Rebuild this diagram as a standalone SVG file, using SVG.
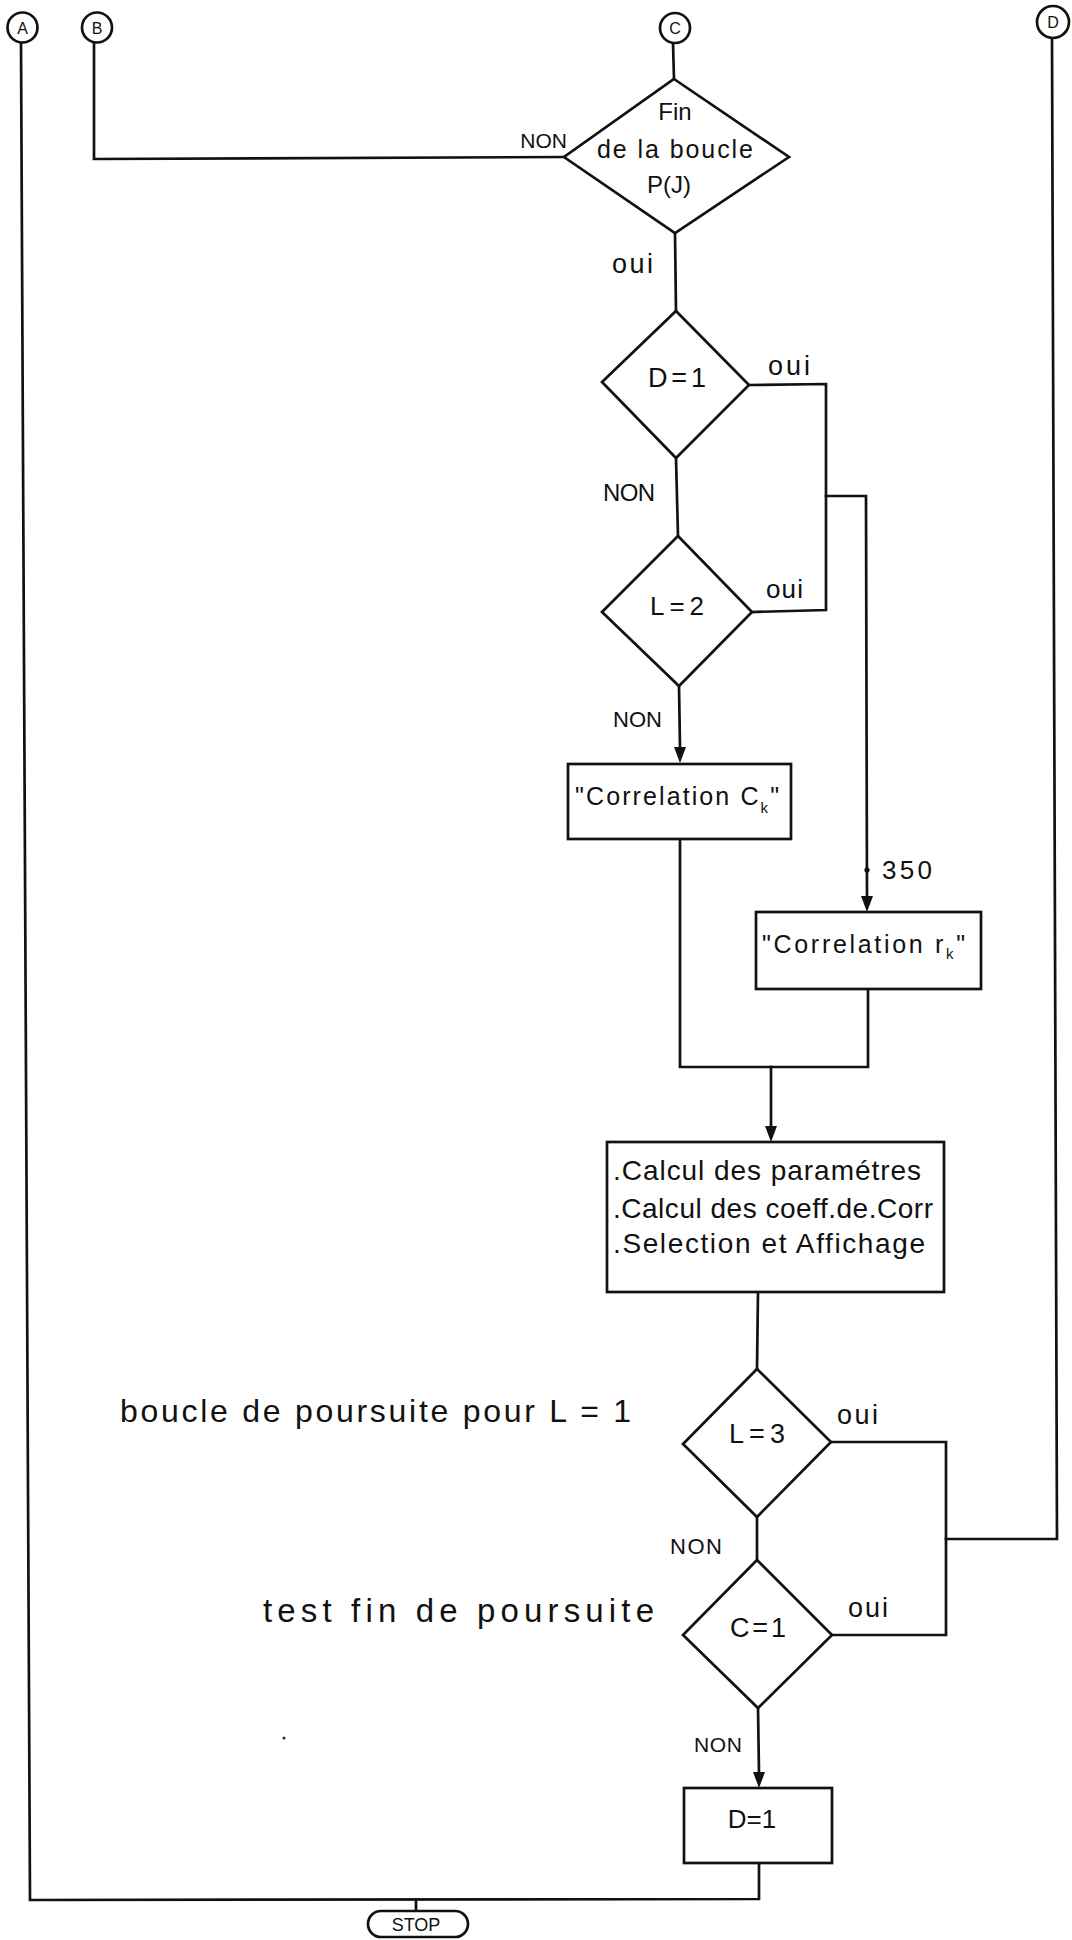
<svg xmlns="http://www.w3.org/2000/svg" width="1072" height="1940" viewBox="0 0 1072 1940">
<defs>
<style>
.ln{fill:none;stroke:#111;stroke-width:2.7;stroke-linejoin:miter;stroke-linecap:square}
.sh{fill:#fff;stroke:#111;stroke-width:2.7}
.t{font-family:"Liberation Sans",Arial,sans-serif;fill:#111}
.m{text-anchor:middle}
.ah{fill:#111}
</style>
</defs>
<rect width="1072" height="1940" fill="#fff"/>
<g id="connectors">
<path class="ln" d="M21,43 L30,1900 L759,1899 L759,1863"/>
<path class="ln" d="M416,1900 L416,1911"/>
<path class="ln" d="M94,43 L94,159 L564,157"/>
<path class="ln" d="M673,43 L674,79"/>
<path class="ln" d="M675,233 L676,311"/>
<path class="ln" d="M676,458 L678,536"/>
<path class="ln" d="M749,385 L826,384 L826,610 L752,612"/>
<path class="ln" d="M826,496 L866,496 L867,897"/>
<path class="ah" d="M861,896 L873,896 L867,912 z"/>
<circle cx="867" cy="870" r="2.6" fill="#111"/>
<path class="ln" d="M679,686 L680,748"/>
<path class="ah" d="M674,747 L686,747 L680,763 z"/>
<path class="ln" d="M680,839 L680,1067 L868,1067 L868,989"/>
<path class="ln" d="M771,1067 L771,1127"/>
<path class="ah" d="M765,1126 L777,1126 L771,1142 z"/>
<path class="ln" d="M758,1292 L757,1369"/>
<path class="ln" d="M831,1442 L946,1442 L946,1635 L832,1635"/>
<path class="ln" d="M1052,38 L1057,1539 L946,1539"/>
<path class="ln" d="M757,1517 L757,1560"/>
<path class="ln" d="M758,1708 L759,1773"/>
<path class="ah" d="M753,1772 L765,1772 L759,1788 z"/>
</g>
<g id="conn-A"><circle class="sh" cx="22.5" cy="27.5" r="15"/><text class="t m" x="22.5" y="33.5" font-size="16">A</text></g>
<g id="conn-B"><circle class="sh" cx="97" cy="27.5" r="15"/><text class="t m" x="97" y="33.5" font-size="16">B</text></g>
<g id="conn-C"><circle class="sh" cx="675" cy="28" r="15"/><text class="t m" x="675" y="34" font-size="16">C</text></g>
<g id="conn-D"><circle class="sh" cx="1053" cy="22" r="16"/><text class="t m" x="1053" y="28" font-size="16">D</text></g>
<g id="dec-fin-boucle">
<polygon class="sh" points="674,79 789,157 675,233 564,157"/>
<text class="t m" x="675" y="120" font-size="24">Fin</text>
<text class="t m" x="675" y="158" font-size="25" textLength="156" lengthAdjust="spacing">de la boucle</text>
<text class="t m" x="669" y="193" font-size="24">P(J)</text>
</g>
<text class="t" x="567" y="148" font-size="21" text-anchor="end">NON</text>
<text class="t" x="612" y="273" font-size="27" textLength="41" lengthAdjust="spacing">oui</text>
<g id="dec-D1">
<polygon class="sh" points="676,311 749,385 676,458 602,382"/>
<text class="t m" x="677" y="387" font-size="27" textLength="58" lengthAdjust="spacing">D=1</text>
</g>
<text class="t" x="768" y="375" font-size="27" textLength="42" lengthAdjust="spacing">oui</text>
<text class="t" x="603" y="501" font-size="24" textLength="52" lengthAdjust="spacing">NON</text>
<g id="dec-L2">
<polygon class="sh" points="678,536 752,612 679,686 602,612"/>
<text class="t m" x="677" y="615" font-size="26" textLength="54" lengthAdjust="spacing">L=2</text>
</g>
<text class="t" x="766" y="598" font-size="26" textLength="37" lengthAdjust="spacing">oui</text>
<text class="t" x="613" y="727" font-size="22" textLength="49" lengthAdjust="spacing">NON</text>
<g id="box-corr-c">
<rect class="sh" x="568" y="764" width="223" height="75"/>
<text class="t" x="575" y="805" font-size="25" textLength="204" lengthAdjust="spacing">"Correlation C<tspan font-size="15" dy="8">k</tspan><tspan dy="-8">"</tspan></text>
</g>
<text class="t" x="882" y="879" font-size="26" textLength="50" lengthAdjust="spacing">350</text>
<g id="box-corr-r">
<rect class="sh" x="756" y="912" width="225" height="77"/>
<text class="t" x="762" y="953" font-size="25" textLength="203" lengthAdjust="spacing">"Correlation r<tspan font-size="15" dy="6">k</tspan><tspan dy="-6">"</tspan></text>
</g>
<g id="box-calcul">
<rect class="sh" x="607" y="1142" width="337" height="150"/>
<text class="t" x="613" y="1180" font-size="28" textLength="308" lengthAdjust="spacing">.Calcul des paramétres</text>
<text class="t" x="613" y="1218" font-size="28" textLength="320" lengthAdjust="spacing">.Calcul des coeff.de.Corr</text>
<text class="t" x="613" y="1253" font-size="28" textLength="312" lengthAdjust="spacing">.Selection et Affichage</text>
</g>
<text class="t" x="120" y="1422" font-size="32" textLength="511" lengthAdjust="spacing">boucle de poursuite pour L = 1</text>
<g id="dec-L3">
<polygon class="sh" points="757,1369 831,1442 757,1517 683,1444"/>
<text class="t m" x="757" y="1443" font-size="27" textLength="56" lengthAdjust="spacing">L=3</text>
</g>
<text class="t" x="837" y="1424" font-size="27" textLength="41" lengthAdjust="spacing">oui</text>
<text class="t" x="670" y="1554" font-size="22" textLength="52" lengthAdjust="spacing">NON</text>
<text class="t" x="263" y="1622" font-size="33" textLength="391" lengthAdjust="spacing">test fin de poursuite</text>
<g id="dec-C1">
<polygon class="sh" points="757,1560 832,1635 758,1708 683,1635"/>
<text class="t m" x="758" y="1637" font-size="27" textLength="56" lengthAdjust="spacing">C=1</text>
</g>
<text class="t" x="848" y="1617" font-size="27" textLength="40" lengthAdjust="spacing">oui</text>
<text class="t" x="694" y="1752" font-size="21" textLength="48" lengthAdjust="spacing">NON</text>
<circle cx="284" cy="1738" r="1.6" fill="#333"/>
<g id="box-D1">
<rect class="sh" x="684" y="1788" width="148" height="75"/>
<text class="t m" x="752" y="1828" font-size="26">D=1</text>
</g>
<g id="term-stop">
<rect class="sh" x="368" y="1911" width="100" height="26" rx="13"/>
<text class="t m" x="416" y="1931" font-size="18">STOP</text>
</g>
</svg>
